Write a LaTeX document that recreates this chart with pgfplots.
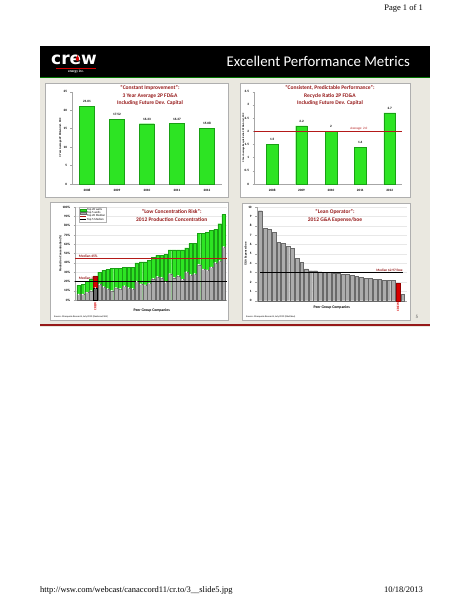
\documentclass[border=0pt]{standalone}
\usepackage{fontspec}
\setmainfont{Carlito}
\newfontfamily\timesf{Liberation Serif}
\newfontfamily\logof{DejaVu Sans}
\usepackage{pgfplots}
\usepackage{pgfplotstable}
\pgfplotsset{compat=1.18}
\definecolor{slidebg}{RGB}{234,232,224}
\definecolor{barg}{RGB}{45,228,35}
\definecolor{bargd}{RGB}{25,160,20}
\definecolor{dred}{RGB}{150,25,25}
\definecolor{lred}{RGB}{180,25,25}
\definecolor{boxg}{RGB}{175,175,175}
\definecolor{grayb}{RGB}{172,172,172}
\definecolor{grayd}{RGB}{105,105,105}
\definecolor{crewred}{RGB}{215,0,0}
\newcommand{\fs}[1]{\fontsize{#1}{#1}\selectfont}
\pgfplotsset{
  slide/.style={scale only axis, anchor=south west,
    axis lines*=left, axis line style={draw=gray!70, line width=0.3pt},
    tick style={draw=gray!70, line width=0.3pt}, major tick length=1.5pt, tick align=outside,
    xtick style={draw=none},
    tick label style={font=\fs{3.3}\bfseries},
    /pgf/number format/assume math mode=true,
    clip=false},
}
\pgfplotstableread{
i top20 top5
1 16 6
2 17 6
3 20 8
4 22 10
5 26 13
6 30 17
7 32 14
8 33 12
9 34 10
10 34 13
11 34 12
12 35 15
13 35 13
14 35 12
15 40 20
16 41 17
17 41 16
18 43 18
19 46 23
20 48 25
21 48 24
22 49 19
23 54 28
24 54 24
25 54 26
26 54 22
27 56 30
28 61 27
29 61 28
30 72 38
31 72 33
32 73 32
33 75 35
34 76 40
35 82 42
36 92 57
}\concdata
\pgfplotstableread{
i ga
1 9.6
2 7.7
3 7.6
4 7.3
5 6.2
6 6.1
7 5.8
8 5.6
9 4.5
10 4.1
11 3.4
12 3.2
13 3.2
14 3.1
15 3.0
16 3.0
17 2.9
18 2.9
19 2.8
20 2.8
21 2.7
22 2.6
23 2.5
24 2.4
25 2.4
26 2.3
27 2.3
28 2.2
29 2.2
30 2.2
31 1.9
32 0.7
}\gadata
\begin{document}
\begin{tikzpicture}[x=1pt,y=1pt]
\useasboundingbox (0,0) rectangle (464,600);
\fill[white] (0,0) rectangle (464,600);
% page header and footer
\node[anchor=base east, font=\timesf\fs{8.5}, inner sep=0] at (423,589) {Page 1 of 1};
\node[anchor=base west, font=\timesf\fs{8.5}, inner sep=0] at (40,8) {http://wsw.com/webcast/canaccord11/cr.to/3\_\_slide5.jpg};
\node[anchor=base east, font=\timesf\fs{8.5}, inner sep=0] at (423,8) {10/18/2013};
% slide
\fill[slidebg] (40,273) rectangle (430,522);
\fill[black] (40,522) rectangle (430,554);
\draw[green!45!black, line width=0.8pt] (40,522.4) -- (430,522.4);
\fill[dred] (40,273.5) rectangle (430,276);
\node[anchor=base west, font=\logof\bfseries\fs{17}, text=white, inner sep=0] at (51,535) {crew};
\fill[crewred] (77.5,545) .. controls (75,541) and (75.5,538.5) .. (77.5,538.5) .. controls (79.5,538.5) and (80,541) .. (77.5,545) -- cycle;
\draw[crewred, line width=0.6pt] (56,531.5) -- (96,531.5);
\node[font=\fs{3.5}\bfseries, text=white, inner sep=0] at (76,528) {energy inc.};
\node[anchor=base east, font=\fs{14.8}, text=white, inner sep=0] at (410,533.5) {Excellent Performance Metrics};
\node[font=\fs{5}, text=gray!70!black, inner sep=0] at (417,283) {5};
% chart boxes
\filldraw[fill=white, draw=boxg, line width=0.4pt] (45,403) rectangle (228,517);
\filldraw[fill=white, draw=boxg, line width=0.4pt] (240,403) rectangle (410,517);
\filldraw[fill=white, draw=boxg, line width=0.4pt] (50,280) rectangle (228,398);
\filldraw[fill=white, draw=boxg, line width=0.4pt] (242,280) rectangle (410,397);

% ---------- top left ----------
\begin{axis}[slide, at={(72pt,416pt)}, width=150pt, height=92.3pt,
  xmin=-0.5, xmax=4.5, ymin=0, ymax=25, ytick={0,5,10,15,20,25},
  xtick={0,1,2,3,4}, xticklabels={2008,2009,2010,2011,2012},
  ylabel={3 Year Average 2P FD\&A incl. FDC},
  every axis y label/.style={at={(axis description cs:-0.077,0.5)}, rotate=90, anchor=center, font=\fs{2.8}\bfseries}]
\addplot[ybar, bar shift=0pt, bar width=15pt, fill=barg, draw=bargd, line width=0.3pt,
  nodes near coords, point meta=explicit symbolic,
  every node near coord/.append style={font=\fs{3.3}\bfseries, text=black}]
  coordinates {(0,21.01)[21.01] (1,17.52)[17.52] (2,16.33)[16.33] (3,16.37)[16.37] (4,15.08)[15.08]};
\end{axis}
\node[anchor=north, align=center, text=dred, font=\fontsize{5.5}{7.6}\selectfont\bfseries, inner sep=0] at (150,514.5)
  {``Constant Improvement'':\\3 Year Average 2P FD\&A\\Including Future Dev. Capital};

% ---------- top right ----------
\begin{axis}[slide, at={(254pt,416pt)}, width=147.7pt, height=92.3pt,
  xmin=-0.62, xmax=4.41, ymin=0, ymax=3.5, ytick={0,0.5,1,1.5,2,2.5,3,3.5},
  xtick={0,1,2,3,4}, xticklabels={2008,2009,2010,2011,2012},
  ylabel={3 Year Average Recycle Ratio 2P FD\&A incl. FDC},
  every axis y label/.style={at={(axis description cs:-0.072,0.5)}, rotate=90, anchor=center, font=\fs{2.5}\bfseries}]
\addplot[ybar, bar shift=0pt, bar width=11.7pt, fill=barg, draw=bargd, line width=0.3pt,
  nodes near coords, point meta=explicit symbolic,
  every node near coord/.append style={font=\fs{3.3}\bfseries, text=black}]
  coordinates {(0,1.5)[1.5] (1,2.2)[2.2] (2,2)[2] (3,1.4)[1.4] (4,2.7)[2.7]};
\addplot[lred, line width=1pt] coordinates {(-0.62,2) (4.41,2)};
\node[anchor=south, font=\fs{3.3}, text=lred, inner sep=0.6pt] at (axis cs:2.95,2) {Average: 2.0};
\end{axis}
\node[anchor=north, align=center, text=dred, font=\fontsize{5.5}{7.6}\selectfont\bfseries, inner sep=0] at (330,514.5)
  {``Consistent, Predictable Performance'':\\Recycle Ratio 2P FD\&A\\Including Future Dev. Capital};

% ---------- bottom left ----------
\begin{axis}[slide, at={(75pt,300pt)}, width=151.7pt, height=93pt,
  xmin=0.11, xmax=36.72, ymin=0, ymax=100, ytick={0,10,...,100},
  yticklabel={\pgfmathprintnumber{\tick}\%}, xtick=\empty,
  ymajorgrids, grid style={gray!18, line width=0.3pt},
  ylabel={Production Concentration (\%)},
  every axis y label/.style={at={(axis description cs:-0.095,0.5)}, rotate=90, anchor=center, font=\fs{3}\bfseries},
  legend style={at={(axis description cs:0.025,0.998)}, anchor=north west, font=\fs{3}, draw=gray!60,
    inner sep=0.4pt, row sep=-1.6pt, legend cell align=left, nodes={inner sep=0.6pt}}]
\addplot[ybar, bar shift=0pt, bar width=3.6pt, fill=barg, draw=bargd, line width=0.2pt,
  legend image code/.code={\fill[barg, draw=bargd, line width=0.2pt] (0pt,-1pt) rectangle (6pt,1.3pt);}]
  table[x=i, y=top20] {\concdata};
\addplot[ybar, bar shift=0pt, bar width=3.6pt, fill=grayb, draw=grayd, line width=0.2pt,
  legend image code/.code={\fill[grayb, draw=grayd, line width=0.2pt] (0pt,-1pt) rectangle (6pt,1.3pt);}]
  table[x=i, y=top5] {\concdata};
\addplot[ybar, bar shift=0pt, bar width=3.6pt, fill=crewred, draw=crewred!70!black, line width=0.2pt, forget plot]
  coordinates {(5,26)};
\addplot[ybar, bar shift=0pt, bar width=3.6pt, fill=grayd, draw=black, line width=0.2pt, forget plot]
  coordinates {(5,13)};
\addplot[only marks, mark=*, mark size=0.5pt, mark options={fill=white, draw=white}, forget plot]
  table[x=i, y=top5] {\concdata};
\addplot[lred, line width=0.8pt,
  legend image code/.code={\draw[lred, line width=0.8pt] (0pt,0pt) -- (6pt,0pt);}]
  coordinates {(0.11,45) (36.72,45)};
\addplot[black, line width=1.1pt,
  legend image code/.code={\draw[black, line width=1.1pt] (0pt,0pt) -- (6pt,0pt);}]
  coordinates {(0.11,20) (36.72,20)};
\legend{Top 20 wells, Top 5 wells, Top 20 Median, Top 5 Median}
\node[anchor=south west, font=\fs{3.6}\bfseries, text=dred, inner sep=0.5pt] at (axis cs:0.9,45) {Median 45\%};
\node[anchor=south west, font=\fs{3.6}\bfseries, text=dred, inner sep=0.5pt] at (axis cs:0.9,21.5) {Median 20\%};
\node[anchor=east, rotate=90, font=\fs{3.3}\bfseries, text=crewred, inner sep=0.5pt] at (axis cs:5,-1.5) {CREW};
\end{axis}
\node[anchor=north, align=center, text=dred, font=\fontsize{5.5}{7.8}\selectfont\bfseries, inner sep=0] at (171.7,391)
  {``Low Concentration Risk'':\\2012 Production Concentration};
\node[font=\fs{3.8}\bfseries, inner sep=0] at (151.7,290) {Peer Group Companies};
\node[anchor=west, font=\fs{2.4}, inner sep=0] at (54,283) {Source: Macquarie Research, July 2013 (GeoScout/IHS)};

% ---------- bottom right ----------
\begin{axis}[slide, at={(256.7pt,299.3pt)}, width=150pt, height=93.7pt,
  xmin=0.22, xmax=32.9, ymin=0, ymax=10, ytick={0,1,...,10}, xtick=\empty,
  ymajorgrids, grid style={gray!18, line width=0.3pt},
  ylabel={G\&A Expense/boe},
  every axis y label/.style={at={(axis description cs:-0.073,0.5)}, rotate=90, anchor=center, font=\fs{3}\bfseries}]
\addplot[ybar, bar shift=0pt, bar width=3.8pt, fill=grayb, draw=grayd, line width=0.25pt]
  table[x=i, y=ga] {\gadata};
\addplot[ybar, bar shift=0pt, bar width=3.8pt, fill=crewred, draw=crewred!70!black, line width=0.25pt]
  coordinates {(31,1.9)};
\addplot[black, line width=1.1pt] coordinates {(1,2.97) (32.2,2.97)};
\node[anchor=south east, font=\fs{3.4}\bfseries, text=dred, inner sep=0.6pt] at (axis cs:32.2,2.97) {Median \$2.97/boe};
\node[anchor=east, rotate=90, font=\fs{3.3}\bfseries, text=crewred, inner sep=0.5pt] at (axis cs:31,-0.15) {CREW};
\end{axis}
\node[anchor=north, align=center, text=dred, font=\fontsize{5.5}{7.8}\selectfont\bfseries, inner sep=0] at (335,390.5)
  {``Lean Operator'':\\2012 G\&A Expense/boe};
\node[font=\fs{3.8}\bfseries, inner sep=0] at (331.7,293) {Peer Group Companies};
\node[anchor=west, font=\fs{2.4}, inner sep=0] at (246,283) {Source: Macquarie Research, July 2013 (G\&A/boe)};
\end{tikzpicture}
\end{document}
